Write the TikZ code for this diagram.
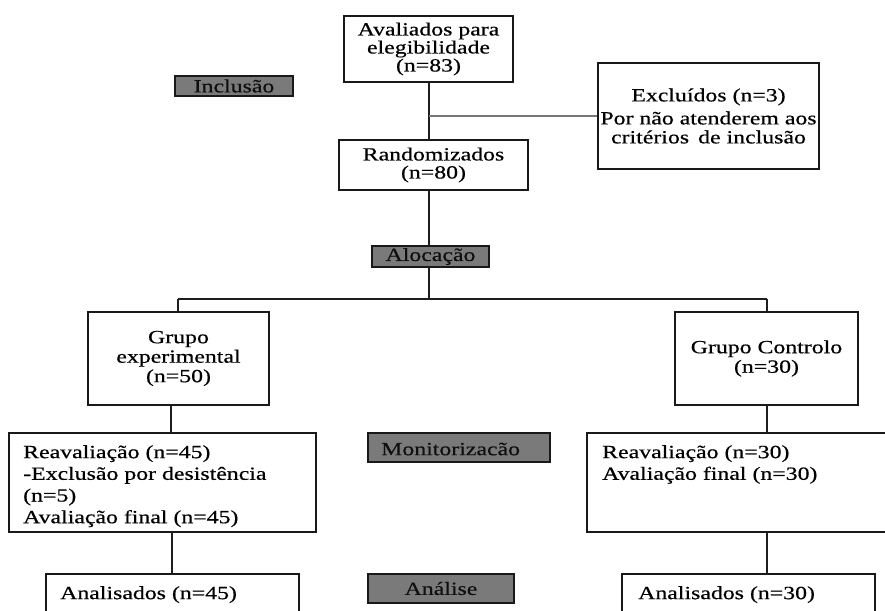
\documentclass[tikz,border=0pt]{standalone}
\usepackage{fontspec}
\setmainfont{Liberation Serif}[FakeStretch=1.28,FakeBold=0.5]
\begin{document}
\begin{tikzpicture}[x=1pt,y=-1pt,
  box/.style={draw={rgb,255:red,25;green,25;blue,25},line width=1.1pt,fill=white,inner sep=0pt,
    font=\fontsize{18.6}{18}\selectfont,align=center},
  tag/.style={draw={rgb,255:red,25;green,25;blue,25},line width=1.1pt,
    fill={rgb,255:red,122;green,122;blue,122},inner sep=0pt,
    font=\fontsize{18.6}{18}\selectfont,text={rgb,255:red,15;green,15;blue,15}},
  txt/.style={inner sep=0pt,align=left,anchor=north west,font=\fontsize{18.6}{21.7}\selectfont},
  link/.style={draw={rgb,255:red,30;green,30;blue,30},line width=1.1pt},
  greylink/.style={draw={rgb,255:red,120;green,120;blue,120},line width=2pt}]
\useasboundingbox (0,0) rectangle (885,610);
\clip (0,0) rectangle (885,610);
\fill[white] (0,0) rectangle (885,610);

% boxes
\node[box,minimum width=169pt,minimum height=66pt] (av) at (428.5,49) {Avaliados para\\elegibilidade\\(n=83)};
\node[box,minimum width=189pt,minimum height=50pt] (rand) at (433.5,165) {Randomizados\\(n=80)};
\node[box,minimum width=221pt,minimum height=106pt,font=\fontsize{18.6}{19}\selectfont] (excl) at (708.5,116) {Excluídos (n=3)\\[4pt]Por não atenderem aos\\critérios\, de inclusão};
\node[tag,minimum width=118pt,minimum height=20pt] (incl) at (234,86) {Inclusão};
\node[tag,minimum width=117pt,minimum height=21pt] (aloc) at (430.5,256.5) {Alocação};
\node[box,minimum width=181pt,minimum height=93pt,font=\fontsize{18.6}{19.5}\selectfont] (gexp) at (178.5,358.5) {Grupo\\experimental\\(n=50)};
\node[box,minimum width=183pt,minimum height=93pt,font=\fontsize{18.6}{19.5}\selectfont] (gctl) at (766.5,358.5) {Grupo Controlo\\(n=30)};
\node[box,minimum width=307pt,minimum height=99pt] (reavl) at (162.5,482.5) {};
\node[box,minimum width=310pt,minimum height=99pt] (reavr) at (742,482.5) {};
\node[tag,minimum width=182pt,minimum height=29pt] (mon) at (459,447.5) {};
\node[box,minimum width=253pt,minimum height=50pt] (anall) at (172.5,599) {};
\node[box,minimum width=253pt,minimum height=50pt] (analr) at (748.5,599) {};
\node[tag,minimum width=146pt,minimum height=29pt] (anal) at (441,588.5) {Análise};

% texts inside boxes
\node[txt] (treavl) at (23,445) {Reavaliação (n=45)\\-Exclusão por desistência\\(n=5)\\Avaliação final (n=45)};
\node[txt] (treavr) at (602,445) {Reavaliação (n=30)\\Avaliação final (n=30)};
\node[txt] (tanall) at (60,586) {Analisados (n=45)};
\node[txt] (tanalr) at (638,586) {Analisados (n=30)};
\node[inner sep=0pt,anchor=west,font=\fontsize{18.6}{18}\selectfont,text={rgb,255:red,15;green,15;blue,15}] (tmon) at (381,449) {Monitorizacão};

% connectors
\coordinate (j1) at (429,116);
\coordinate (bl) at (178,299);
\coordinate (br) at (767,299);
\coordinate (bc) at (429,299);
\draw[link] (429,82) coordinate (avb) -- (429,140) coordinate (rt);
\draw[greylink] (j1) -- (j1 -| excl.west);
\draw[link] (429,190) -- (aloc.north -| 429,0);
\draw[link] (aloc.south -| 429,0) -- (bc);
\draw[link] (bl) -- (br);
\draw[link] (bl) -- (bl |- gexp.north);
\draw[link] (br) -- (br |- gctl.north);
\draw[link] (171,405) -- (171,433);
\draw[link] (767,405) -- (767,433);
\draw[link] (172,532) -- (172,574);
\draw[link] (767,532) -- (767,574);
\end{tikzpicture}
\end{document}
